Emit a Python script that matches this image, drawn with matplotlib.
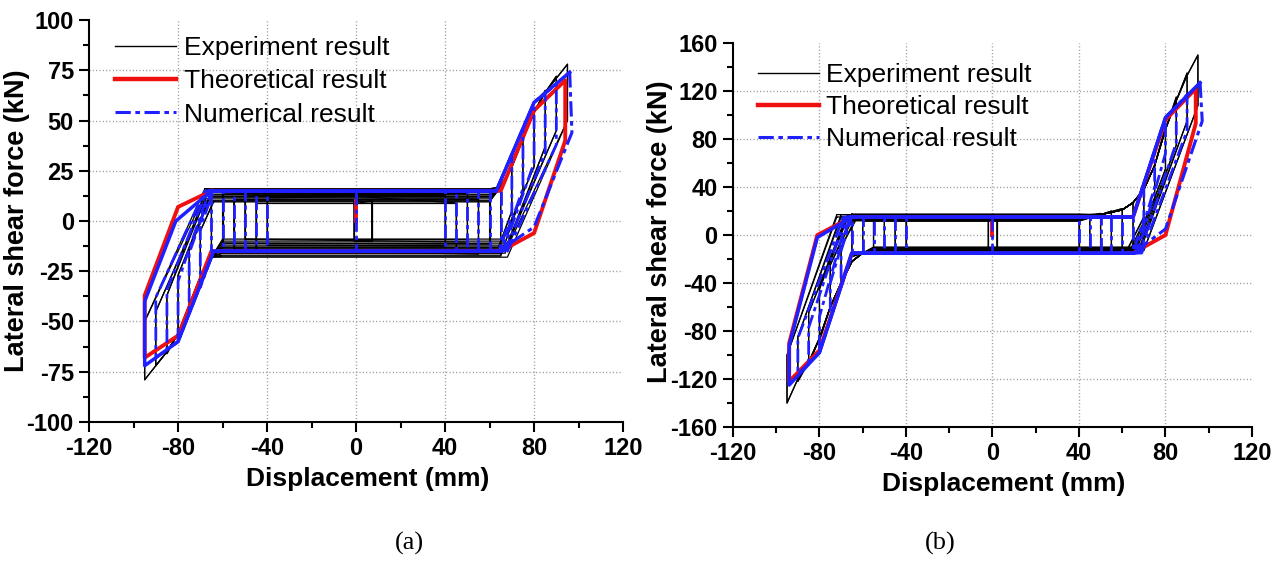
import matplotlib.pyplot as plt
from matplotlib.lines import Line2D

plt.rcParams['font.family'] = 'Liberation Sans'
plt.rcParams['axes.unicode_minus'] = False

# axes ticks
x_ticks = [-120, -80, -40, 0, 40, 80, 120]
a_y_ticks = [-100, -75, -50, -25, 0, 25, 50, 75, 100]
b_y_ticks = [-160, -120, -80, -40, 0, 40, 80, 120, 160]

# ---------------- panel (a) ----------------
# experiment: loops per amplitude (mm), forces in kN
a_exp_amp_p = [7, 40, 45, 50, 55, 60, 65, 70, 75, 80, 85, 90, 95]
a_exp_amp_n = [-1, -40, -45, -50, -55, -60, -65, -70, -75, -80, -85, -90, -95]
a_exp_up = [10, 13, 9, 14, 11, 15, 12, 10, 14, 12, 16, 11, 13]
a_exp_low = [-10, -12, -15, -9, -14, -11, -16, -13, -17, -10, -14, -12, -18]
# plateau levels of the repeated cycles
a_exp_up2 = [8.5, 11.5, 15.5, 12.5, 10.5, 13.5, 15, 9.5, 14.5, 12, 13, 10, 16]
a_exp_low2 = [-9.5, -12.5, -14.5, -10.5, -16.5, -11.5, -15.5, -13.5, -17.5, -9, -16, -11, -13]
a_exp_pk_p = [10, 13, 9, 14, 11, 15, 17, 27, 42, 55, 65, 72, 78]
a_exp_rev_p = [-10, -12, -15, -9, -14, -11, -16, 5, 15, 27, 37, 45, 50]
a_exp_back_p = [7, 40, 45, 50, 55, 60, 65, 64, 65, 66, 67, 68, 68]
a_exp_pk_n = [-10, -12, -15, -9, -14, -11, -18, -28, -42, -57, -66, -72, -79]
a_exp_rev_n = [10, 13, 9, 14, 11, 15, 12, -5, -15, -27, -37, -45, -50]
a_exp_back_n = [-1, -40, -45, -50, -55, -60, -65, -64, -65, -66, -67, -68, -68]
a_exp_bb_p = (60, [65, 70, 75, 80, 85, 90], [17, 27, 41, 54, 64, 71])
a_exp_bb_n = (-60, [-65, -70, -75, -80, -85, -90], [-18, -28, -42, -56, -65, -72])

# theoretical outer loop
a_th_x = [-65, 65, 80, 94, 94, 80, 65, -65, -80, -95, -95, -80, -65]
a_th_y = [15, 15, 55, 70, 40, -6, -15, -15, -57, -68, -37, 7, 15]
a_th_init_x = [0, 0]
a_th_init_y = [0, 10]

# numerical: envelope (solid part) and outer unloading (dash-dot part)
a_num_env_x = [64, -64, -80, -95, -95, -81, -65, 63, 80, 96]
a_num_env_y = [-15, -15, -60, -72, -40, 0, 15, 15, 59, 74]
a_num_unl_x = [96, 97, 80, 64]
a_num_unl_y = [74, 44, -3, -15]
a_num_init_x = [0, 0]
a_num_init_y = [15, -15]
# numerical inner loops
a_num_amp_p = [40, 45, 50, 55, 60, 65, 70, 75, 80, 85, 90]
a_num_amp_n = [-40, -45, -50, -55, -60, -65, -70, -75, -80, -85, -90]
a_num_up = [15] * 11
a_num_low = [-15] * 11
a_num_pk_p = [15, 15, 15, 15, 15, 15, 33, 46, 59, 64, 68]
a_num_rev_p = [-15, -15, -15, -15, -15, -15, 3, 16, 29, 34, 38]
a_num_back_p = [40, 45, 50, 55, 60, 65, 64, 65, 66, 67, 68]
a_num_pk_n = [-15, -15, -15, -15, -15, -15, -33, -46, -60, -64, -68]
a_num_rev_n = [15, 15, 15, 15, 15, 15, -3, -16, -30, -34, -38]
a_num_back_n = [-40, -45, -50, -55, -60, -65, -64, -65, -66, -67, -68]
a_num_bb_p = (63, [80], [59])
a_num_bb_n = (-64, [-80], [-60])

# ---------------- panel (b) ----------------
b_exp_amp_p = [2, 40, 45, 50, 55, 60, 65, 70, 75, 80, 85, 90, 95]
b_exp_amp_n = [-2, -40, -45, -50, -55, -60, -65, -70, -75, -80, -85, -90, -95]
b_exp_up = [13, 15, 12, 16, 14, 17, 13, 15, 12, 16, 14, 17, 15]
b_exp_low = [-12, -13, -11, -14, -12, -15, -10, -13, -14, -11, -15, -12, -13]
b_exp_up2 = [14.5, 12.5, 16.5, 13.5, 15.5, 11.5, 17.5, 13, 16, 14, 12, 15, 17]
b_exp_low2 = [-11.5, -14.5, -12.5, -10.5, -13.5, -15.5, -12, -14, -11, -13, -10.5, -15, -12.5]
b_exp_pk_p = [13, 15, 16, 18, 20, 22, 27, 38, 58, 90, 115, 135, 150]
b_exp_rev_p = [-12, -13, -11, -14, -12, -15, -10, 15, 30, 55, 75, 95, 108]
b_exp_back_p = [2, 40, 45, 50, 55, 60, 65, 62, 64, 66, 67, 68, 70]
b_exp_pk_n = [-12, -13, -11, -14, -12, -15, -18, -40, -60, -88, -108, -122, -140]
b_exp_rev_n = [13, 15, 12, 16, 14, 17, 13, -10, -25, -45, -65, -85, -100]
b_exp_back_n = [-2, -40, -45, -50, -55, -60, -65, -63, -65, -67, -68, -70, -72]
b_exp_bb_p = (40, [50, 60, 65, 70, 75, 80, 85, 90], [17, 21, 27, 38, 58, 88, 112, 133])
b_exp_bb_n = (-55, [-60, -65, -70, -75, -80, -85, -90], [-15, -22, -40, -60, -86, -106, -120])

b_th_x = [-65, 65, 80, 94, 94, 80, 65, -65, -80, -94, -94, -81, -65]
b_th_y = [15, 15, 96, 122, 93, 0, -15, -15, -96, -122, -90, 0, 15]
b_th_init_x = [0, 0]
b_th_init_y = [0, 10]

b_num_env_x = [65, -65, -80, -94, -94, -81, -65, 65, 80, 96]
b_num_env_y = [-15, -15, -98, -125, -92, -2, 15, 15, 98, 127]
b_num_unl_x = [96, 97, 80, 65]
b_num_unl_y = [127, 95, 5, -15]
b_num_init_x = [0, 0]
b_num_init_y = [15, -15]
b_num_amp_p = [40, 45, 50, 55, 60, 65, 70, 75, 80, 85, 90]
b_num_amp_n = [-40, -45, -50, -55, -60, -65, -70, -75, -80, -85, -90]
b_num_up = [15] * 11
b_num_low = [-15] * 11
b_num_pk_p = [15, 15, 15, 15, 15, 15, 43, 70, 98, 107, 117]
b_num_rev_p = [-15, -15, -15, -15, -15, -15, 13, 40, 68, 77, 87]
b_num_back_p = [40, 45, 50, 55, 60, 65, 65, 66, 67, 68, 69]
b_num_pk_n = [-15, -15, -15, -15, -15, -15, -43, -70, -98, -107, -116]
b_num_rev_n = [15, 15, 15, 15, 15, 15, -13, -40, -68, -77, -86]
b_num_back_n = [-40, -45, -50, -55, -60, -65, -65, -66, -67, -68, -69]
b_num_bb_p = (65, [80], [98])
b_num_bb_n = (-65, [-80], [-98])

RED = '#f01010'
BLUE = '#1f1fff'
DASHDOT = (0, (5, 1.5, 1.5, 1.5))


def branch(amp, peak, rev, back, level, other, bb):
    # plateau -> backbone -> peak -> reversal -> back to the other plateau
    x0, bbx, bby = bb
    xs, ys = [], []
    if abs(amp) > abs(x0):
        xs.append(x0)
        ys.append(level)
    for x, y in zip(bbx, bby):
        if abs(x) < abs(amp):
            xs.append(x)
            ys.append(y)
    xs += [amp, amp, back]
    ys += [peak, rev, other]
    return xs, ys


def draw_loops(ax, amp_p, pk_p, rev_p, back_p, amp_n, pk_n, rev_n, back_n,
               up, low, bb_p, bb_n, **kw):
    for i in range(len(amp_p)):
        xp, yp = branch(amp_p[i], pk_p[i], rev_p[i], back_p[i], up[i], low[i], bb_p)
        xn, yn = branch(amp_n[i], pk_n[i], rev_n[i], back_n[i], low[i], up[i], bb_n)
        ax.plot([back_n[i]] + xp + xn, [up[i]] + yp + yn, **kw)


def style_axes(ax, yticks, ymin_step, xlab_y):
    ax.set_xlim(-120, 120)
    ax.set_ylim(yticks[0], yticks[-1])
    ax.set_xticks(x_ticks)
    ax.set_xticklabels([str(v) for v in x_ticks], fontweight='bold')
    ax.set_yticks(yticks)
    ax.set_yticklabels([str(v) for v in yticks], fontweight='bold')
    ax.set_xticks([v + 20 for v in x_ticks[:-1]], minor=True)
    ax.set_yticks([v + ymin_step for v in yticks[:-1]], minor=True)
    ax.tick_params(which='major', length=7, width=1.5, labelsize=17, pad=4)
    ax.tick_params(which='minor', length=4, width=1.5)
    for s in ['top', 'right']:
        ax.spines[s].set_visible(False)
    for s in ['left', 'bottom']:
        ax.spines[s].set_linewidth(1.5)
    for v in x_ticks[1:-1]:
        ax.axvline(v, color='#9a9a9a', lw=1, ls=(0, (0.8, 1.6)), zorder=0)
    for v in yticks[1:-1]:
        ax.axhline(v, color='#9a9a9a', lw=1, ls=(0, (0.8, 1.6)), zorder=0)
    ax.set_xlabel('Displacement (mm)', fontsize=19, fontweight='bold')
    ax.set_ylabel('Lateral shear force (kN)', fontsize=19.5, fontweight='bold')
    ax.xaxis.set_label_coords(0.522, xlab_y)


def legend(ax, anchor, spacing):
    handles = [Line2D([], [], color='black', lw=1),
               Line2D([], [], color=RED, lw=3.2),
               Line2D([], [], color=BLUE, lw=2.2, ls=DASHDOT)]
    labels = ['Experiment result', 'Theoretical result', 'Numerical result']
    ax.legend(handles, labels, loc='upper left', bbox_to_anchor=anchor,
              frameon=False, prop={'size': 19}, handlelength=2.3,
              handletextpad=0.3, labelspacing=spacing, borderpad=0,
              borderaxespad=0)


def panel(ax, exp, exp_levels, th, num, num_env, num_unl, num_init):
    for up, low in exp_levels:
        draw_loops(ax, *exp[:8], up, low, *exp[8:],
                   color='black', lw=0.9, zorder=2)
    ax.plot(th[0], th[1], color=RED, lw=2.8, zorder=3)
    ax.plot(th[2], th[3], color=RED, lw=2.8, zorder=3)
    draw_loops(ax, *num, color=BLUE, lw=2, ls=DASHDOT, zorder=4)
    ax.plot(num_env[0], num_env[1], color=BLUE, lw=2.5, zorder=5)
    ax.plot(num_unl[0], num_unl[1], color=BLUE, lw=2.2, ls=DASHDOT, zorder=5)
    ax.plot(num_init[0], num_init[1], color=BLUE, lw=2, ls=DASHDOT, zorder=4)


fig = plt.figure(figsize=(12.85, 5.65), dpi=100)
ax1 = fig.add_axes([0.0693, 0.2531, 0.4156, 0.7115])
ax2 = fig.add_axes([0.5704, 0.2442, 0.4039, 0.6796])

# panel (a)
panel(ax1,
      (a_exp_amp_p, a_exp_pk_p, a_exp_rev_p, a_exp_back_p,
       a_exp_amp_n, a_exp_pk_n, a_exp_rev_n, a_exp_back_n,
       a_exp_bb_p, a_exp_bb_n),
      [(a_exp_up, a_exp_low), (a_exp_up2, a_exp_low2)],
      (a_th_x, a_th_y, a_th_init_x, a_th_init_y),
      (a_num_amp_p, a_num_pk_p, a_num_rev_p, a_num_back_p,
       a_num_amp_n, a_num_pk_n, a_num_rev_n, a_num_back_n,
       a_num_up, a_num_low, a_num_bb_p, a_num_bb_n),
      (a_num_env_x, a_num_env_y), (a_num_unl_x, a_num_unl_y),
      (a_num_init_x, a_num_init_y))
style_axes(ax1, a_y_ticks, 12.5, -0.113)
ax1.yaxis.set_label_coords(-0.11, 0.5)
legend(ax1, (0.049, 0.96), 0.35)

# panel (b)
panel(ax2,
      (b_exp_amp_p, b_exp_pk_p, b_exp_rev_p, b_exp_back_p,
       b_exp_amp_n, b_exp_pk_n, b_exp_rev_n, b_exp_back_n,
       b_exp_bb_p, b_exp_bb_n),
      [(b_exp_up, b_exp_low), (b_exp_up2, b_exp_low2)],
      (b_th_x, b_th_y, b_th_init_x, b_th_init_y),
      (b_num_amp_p, b_num_pk_p, b_num_rev_p, b_num_back_p,
       b_num_amp_n, b_num_pk_n, b_num_rev_n, b_num_back_n,
       b_num_up, b_num_low, b_num_bb_p, b_num_bb_n),
      (b_num_env_x, b_num_env_y), (b_num_unl_x, b_num_unl_y),
      (b_num_init_x, b_num_init_y))
style_axes(ax2, b_y_ticks, 20, -0.117)
ax2.yaxis.set_label_coords(-0.115, 0.508)
legend(ax2, (0.048, 0.947), 0.3)

fig.text(0.319, 0.039, '(a)', fontsize=19, family='Liberation Serif', ha='center', va='center')
fig.text(0.7315, 0.039, '(b)', fontsize=19, family='Liberation Serif', ha='center', va='center')

fig.savefig('out.png', dpi=100)
